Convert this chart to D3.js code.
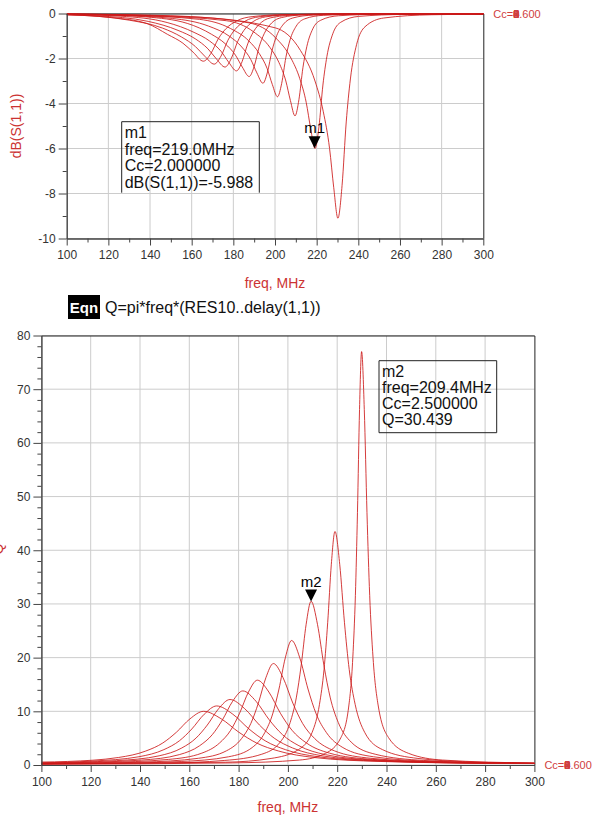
<!DOCTYPE html>
<html>
<head>
<meta charset="utf-8">
<script src="https://cdn.jsdelivr.net/npm/d3@7"></script>
<style>
  body { margin: 0; background: #fff; }
  svg { display: block; font-family: "Liberation Sans", Arial, sans-serif; }
</style>
</head>
<body>
<div id="chart"></div>
<script>
// ---- data ----
// dB(S(1,1)) traces, one per Cc step, as [freq MHz, dB]
let s1 = [[100,-0.03],[160,-0.15],[200.2,-0.64],[212.2,-1.64],[219.2,-3.0],[223.2,-4.37],[226.2,-6.0],[228.2,-7.74],[230.2,-9.1],[232.2,-7.64],[234.2,-4.82],[236.2,-2.91],[239.2,-1.37],[243.2,-0.59],[252.2,-0.2],[275.2,-0.055],[300,-0.03]];
let s2 = [[100,-0.02],[150,-0.1],[187.7,-0.42],[200.3,-1.08],[207.65,-1.98],[211.85,-2.88],[215.0,-3.96],[217.1,-5.1],[219.2,-6.0],[221.1,-5.04],[223.0,-3.18],[224.9,-1.92],[227.75,-0.9],[231.55,-0.39],[240.1,-0.13],[262,-0.04],[300,-0.02]];
let s3 = [[100,-0.02],[140,-0.1],[176.6,-0.32],[189.8,-0.82],[197.5,-1.5],[201.9,-2.18],[205.2,-3.0],[207.4,-3.87],[209.6,-4.55],[211.5,-3.82],[213.4,-2.41],[215.3,-1.46],[218.15,-0.68],[221.95,-0.3],[230.5,-0.1],[252.35,-0.03],[300,-0.01]];
let s4 = [[100,-0.02],[130,-0.08],[163.7,-0.26],[178.7,-0.67],[187.45,-1.22],[192.45,-1.78],[196.2,-2.44],[198.7,-3.15],[201.2,-3.7],[203.2,-3.11],[205.2,-1.96],[207.2,-1.18],[210.2,-0.56],[214.2,-0.24],[223.2,-0.08],[246.2,-0.02],[300,-0.01]];
let s5 = [[100,-0.03],[125,-0.08],[150.7,-0.22],[168.1,-0.56],[178.25,-1.02],[184.05,-1.49],[188.4,-2.05],[191.3,-2.64],[194.2,-3.1],[196.4,-2.6],[198.6,-1.64],[200.8,-0.99],[204.1,-0.47],[208.5,-0.2],[218.4,-0.07],[243.7,-0.02],[300,-0.01]];
let s6 = [[100,-0.03],[120,-0.07],[138.1,-0.15],[157.9,-0.44],[169.45,-0.92],[176.05,-1.34],[181.0,-1.85],[184.3,-2.38],[187.6,-2.8],[190.0,-2.35],[192.4,-1.48],[194.8,-0.9],[198.4,-0.42],[203.2,-0.18],[214,-0.06],[241.6,-0.02],[300,-0.01]];
let s7 = [[100,-0.04],[126,-0.12],[148.2,-0.4],[161.15,-0.84],[168.55,-1.22],[174.1,-1.68],[177.8,-2.17],[181.5,-2.55],[184.2,-2.14],[186.9,-1.35],[189.6,-0.82],[193.65,-0.38],[199.05,-0.17],[211.2,-0.06],[242.25,-0.015],[300,-0.01]];
let s8 = [[100,-0.05],[114.5,-0.1],[139.1,-0.35],[153.45,-0.75],[161.65,-1.12],[167.8,-1.57],[171.9,-2.02],[176.0,-2.38],[179,-2.0],[182,-1.26],[185,-0.76],[189.5,-0.36],[195.5,-0.15],[209,-0.05],[243.5,-0.015],[300,-0.01]];
let s9 = [[100,-0.05],[130.3,-0.3],[146.05,-0.65],[155.05,-1.04],[161.8,-1.47],[166.3,-1.9],[170.8,-2.25],[174.1,-1.89],[177.4,-1.19],[180.7,-0.72],[185.65,-0.34],[192.25,-0.15],[207.1,-0.05],[245.05,-0.014],[300,-0.01]];
let s10 = [[100,-0.06],[121.5,-0.18],[138.65,-0.45],[148.45,-0.93],[155.8,-1.32],[160.7,-1.72],[165.6,-2.12],[169.2,-1.78],[172.8,-1.12],[176.4,-0.68],[181.8,-0.32],[189,-0.14],[205.2,-0.047],[246.6,-0.013],[300,-0.01]];
let sTraces = [s1, s2, s3, s4, s5, s6, s7, s8, s9, s10];

// Q traces, as [freq MHz, Q]
let q1 = [[100,0.12],[177.4,0.39],[204.7,0.92],[215.2,2.16],[221.5,5.1],[224.65,10.8],[226.33,20.0],[227.38,31.6],[228.22,47.0],[229.06,66.2],[229.9,77.0],[230.99,66.2],[232.08,47.0],[233.18,31.6],[234.54,20.0],[236.73,10.8],[240.82,5.1],[249.01,2.16],[262.66,0.92],[300,0.36]];
let q2 = [[100,0.25],[174.7,0.52],[193.2,1.22],[204.3,2.87],[209.85,6.1],[212.81,11.3],[214.66,17.8],[216.14,26.5],[217.62,37.4],[219.1,43.5],[221.02,37.4],[222.95,26.5],[224.87,17.8],[227.28,11.3],[231.13,6.1],[238.34,2.87],[252.77,1.22],[276.82,0.52],[300,0.3]];
let q3 = [[100,0.28],[149.4,0.37],[174.4,0.85],[189.4,2.01],[196.9,4.27],[200.9,7.9],[203.4,12.5],[205.4,18.6],[207.4,26.2],[209.4,30.5],[212.0,26.2],[214.6,18.6],[217.2,12.5],[220.45,7.9],[225.65,4.27],[235.4,2.01],[254.9,0.85],[287.4,0.37],[300,0.32]];
let q4 = [[100,0.2],[124.7,0.28],[156.7,0.65],[175.9,1.53],[185.5,3.25],[190.62,6.03],[193.82,9.51],[196.38,14.15],[198.94,19.95],[201.5,23.2],[204.83,19.95],[208.16,14.15],[211.48,9.51],[215.64,6.03],[222.3,3.25],[234.78,1.53],[259.74,0.65],[300,0.3]];
let q5 = [[100,0.23],[140.9,0.53],[163.7,1.25],[175.1,2.65],[181.18,4.91],[184.98,7.75],[188.02,11.53],[191.06,16.25],[194.1,18.9],[198.05,16.25],[202.0,11.53],[205.96,7.75],[210.9,4.91],[218.8,2.65],[233.62,1.25],[263.26,0.53],[300,0.28]];
let q6 = [[100,0.25],[124.6,0.44],[151.6,1.04],[165.1,2.21],[172.3,4.11],[176.8,6.48],[180.4,9.64],[184.0,13.59],[187.6,15.8],[192.28,13.59],[196.96,9.64],[201.64,6.48],[207.49,4.11],[216.85,2.21],[234.4,1.04],[269.5,0.44],[300,0.3]];
let q7 = [[100,0.3],[109.6,0.39],[140.5,0.91],[155.95,1.93],[164.19,3.59],[169.34,5.66],[173.46,8.42],[177.58,11.87],[181.7,13.8],[187.06,11.87],[192.42,8.42],[197.78,5.66],[204.48,3.59],[215.2,1.93],[235.3,0.91],[275.5,0.39],[300,0.3]];
let q8 = [[100,0.38],[130.5,0.81],[147.75,1.71],[156.95,3.17],[162.7,5.0],[167.3,7.44],[171.9,10.49],[176.5,12.2],[182.48,10.49],[188.46,7.44],[194.44,5.0],[201.92,3.17],[213.88,1.71],[236.3,0.81],[281.15,0.34],[300,0.3]];
let q9 = [[100,0.42],[120.7,0.73],[139.6,1.54],[149.68,2.86],[155.98,4.51],[161.02,6.71],[166.06,9.46],[171.1,11.0],[177.66,9.46],[184.22,6.71],[190.78,4.51],[198.98,2.86],[212.1,1.54],[236.7,0.73],[285.9,0.31],[300,0.28]];
let q10 = [[100,0.55],[110.6,0.66],[131.3,1.4],[142.34,2.6],[149.24,4.1],[154.76,6.1],[160.28,8.6],[165.8,10.0],[172.96,8.6],[180.12,6.1],[187.28,4.1],[196.23,2.6],[210.55,1.4],[237.4,0.66],[291.1,0.28],[300,0.27]];
let qTraces = [q1, q2, q3, q4, q5, q6, q7, q8, q9, q10];

// tick labels
let freqTicks = [100, 120, 140, 160, 180, 200, 220, 240, 260, 280, 300];
let freqMinor = [110, 130, 150, 170, 190, 210, 230, 250, 270, 290];
let dbTicks = [0, -2, -4, -6, -8, -10];
let dbMinor = [-1, -3, -5, -7, -9];
let qTicks = [0, 10, 20, 30, 40, 50, 60, 70, 80];
let qMinor = [2, 4, 6, 8, 12, 14, 16, 18, 22, 24, 26, 28, 32, 34, 36, 38, 42, 44, 46, 48, 52, 54, 56, 58, 62, 64, 66, 68, 72, 74, 76, 78];

// markers
let m1 = { name: "m1", freq: 219.0, value: -5.988, lines: ["m1", "freq=219.0MHz", "Cc=2.000000", "dB(S(1,1))=-5.988"] };
let m2 = { name: "m2", freq: 209.4, value: 30.439, lines: ["m2", "freq=209.4MHz", "Cc=2.500000", "Q=30.439"] };
// trace labels at the right end all sit on top of each other
let legendDigits = ["0", "1", "2", "3", "4", "5", "6", "8", "9"];

let width = 592, height = 820;
let traceColor = "#cc1a1a";
let titleColor = "#cc3333";

let svg = d3.select("#chart")
    .append("svg")
    .attr("width", width)
    .attr("height", height);

function drawPanel(p) {
    let x = d3.scaleLinear().domain([100, 300]).range([p.left, p.right]);
    let y = d3.scaleLinear().domain(p.yDomain).range([p.bottom, p.top]);
    let g = svg.append("g");

    // grid
    g.selectAll(".vg").data(freqTicks.slice(1, -1)).enter().append("line")
        .attr("x1", d => x(d)).attr("x2", d => x(d))
        .attr("y1", p.top).attr("y2", p.bottom)
        .attr("stroke", "#cccccc");
    g.selectAll(".hg").data(p.yTicks).enter().append("line")
        .attr("x1", p.left).attr("x2", p.right)
        .attr("y1", d => y(d)).attr("y2", d => y(d))
        .attr("stroke", "#cccccc");

    // frame top + right
    g.append("path")
        .attr("d", `M${p.left},${p.top + 0.5}H${p.right + 0.5}V${p.bottom}`)
        .attr("fill", "none").attr("stroke", "#222");

    // traces
    let clipId = "clip" + p.id;
    svg.append("clipPath").attr("id", clipId).append("rect")
        .attr("x", p.left).attr("y", p.top - 2)
        .attr("width", p.right - p.left + 1).attr("height", p.bottom - p.top + 4);
    let line = d3.line()
        .x(d => x(d[0])).y(d => y(d[1]))
        .curve(d3.curveMonotoneX);
    g.append("g").attr("clip-path", `url(#${clipId})`)
        .selectAll("path").data(p.traces).enter().append("path")
        .attr("d", line)
        .attr("fill", "none")
        .attr("stroke", traceColor)
        .attr("stroke-width", 1)
        .attr("stroke-opacity", 0.85);

    // axes
    g.append("g").attr("transform", `translate(0,${p.bottom})`)
        .call(d3.axisBottom(x).tickValues(freqTicks).tickSize(7).tickSizeOuter(0).tickPadding(5).tickFormat(d => String(d)));
    g.append("g").attr("transform", `translate(0,${p.bottom})`)
        .call(d3.axisBottom(x).tickValues(freqMinor).tickSize(4).tickSizeOuter(0).tickFormat(""));
    g.append("g").attr("transform", `translate(${p.left},0)`)
        .call(d3.axisLeft(y).tickValues(p.yTicks).tickSize(8).tickSizeOuter(0).tickPadding(3).tickFormat(d => String(d)));
    g.append("g").attr("transform", `translate(${p.left},0)`)
        .call(d3.axisLeft(y).tickValues(p.yMinor).tickSize(4).tickSizeOuter(0).tickFormat(""));
    g.selectAll(".domain, .tick line").attr("stroke", "#444");
    g.selectAll(".tick text")
        .attr("fill", "#333")
        .style("font-size", "12px")
        .style("font-family", "'Liberation Sans', Arial, sans-serif");

    // x title
    g.append("text")
        .attr("x", (p.left + p.right) / 2).attr("y", p.xTitleY)
        .attr("text-anchor", "middle")
        .attr("fill", titleColor)
        .style("font-size", "14px")
        .text("freq, MHz");

    // y title
    g.append("text")
        .attr("transform", `translate(${p.yTitleX},${p.yTitleY}) rotate(-90)`)
        .attr("text-anchor", "middle")
        .attr("fill", titleColor)
        .style("font-size", "14px")
        .text(p.yTitle);

    // legend at right end of traces: text once, digits overlapped
    let lx = p.right + 10, ly = y(p.legendAt) + 4;
    g.append("text")
        .attr("x", lx).attr("y", ly)
        .attr("fill", "#d04040")
        .style("font-size", "11px")
        .text("Cc=0.600");
    let lg = g.selectAll(".lg").data(legendDigits).enter().append("text")
        .attr("x", lx).attr("y", ly)
        .attr("fill", "#d04040")
        .style("font-size", "11px");
    lg.append("tspan").attr("fill-opacity", 0).text("Cc=");
    lg.append("tspan").text(d => d);

    // marker
    let mx = x(p.marker.freq), my = y(p.marker.value);
    g.append("path")
        .attr("d", `M${mx},${my}L${mx - 6},${my - 12}L${mx + 6},${my - 12}Z`)
        .attr("fill", "#000");
    g.append("text")
        .attr("x", mx).attr("y", my - 15)
        .attr("text-anchor", "middle")
        .style("font-size", "15px")
        .text(p.marker.name);

    // marker readout box
    let b = p.box;
    g.append("path")
        .attr("d", b.open
            ? `M${b.x},${b.y + b.h}V${b.y}H${b.x + b.w}V${b.y + b.h}`
            : `M${b.x},${b.y}H${b.x + b.w}V${b.y + b.h}H${b.x}Z`)
        .attr("fill", "none").attr("stroke", "#222");
    g.selectAll(".bt").data(p.marker.lines).enter().append("text")
        .attr("x", b.x + 3)
        .attr("y", (d, i) => b.y + 16 + i * b.lh)
        .attr("fill", "#111")
        .style("font-size", "16px")
        .text(d => d);
}

drawPanel({
    id: "top", left: 66.7, right: 483.3, top: 13.5, bottom: 238.5,
    yDomain: [-10, 0], yTicks: dbTicks, yMinor: dbMinor,
    traces: sTraces, marker: m1, legendAt: 0,
    xTitleY: 288,
    yTitle: "dB(S(1,1))", yTitleX: 21, yTitleY: 126,
    box: { x: 121.7, y: 121.7, w: 137.6, h: 71, lh: 16.8, open: true }
});

drawPanel({
    id: "bot", left: 41.4, right: 534.4, top: 335.5, bottom: 765,
    yDomain: [0, 80], yTicks: qTicks, yMinor: qMinor,
    traces: qTraces, marker: m2, legendAt: 0,
    xTitleY: 812,
    yTitle: "Q", yTitleX: 3, yTitleY: 549,
    box: { x: 379, y: 360.7, w: 117.7, h: 72, lh: 16, open: false }
});

// equation line
svg.append("rect")
    .attr("x", 68).attr("y", 295).attr("width", 32).attr("height", 24)
    .attr("fill", "#000");
svg.append("text")
    .attr("x", 84).attr("y", 312.5)
    .attr("text-anchor", "middle")
    .attr("fill", "#fff")
    .style("font-size", "15px").style("font-weight", "bold")
    .text("Eqn");
svg.append("text")
    .attr("x", 105).attr("y", 313)
    .attr("fill", "#111")
    .style("font-size", "16px")
    .text("Q=pi*freq*(RES10..delay(1,1))");
</script>
</body>
</html>
